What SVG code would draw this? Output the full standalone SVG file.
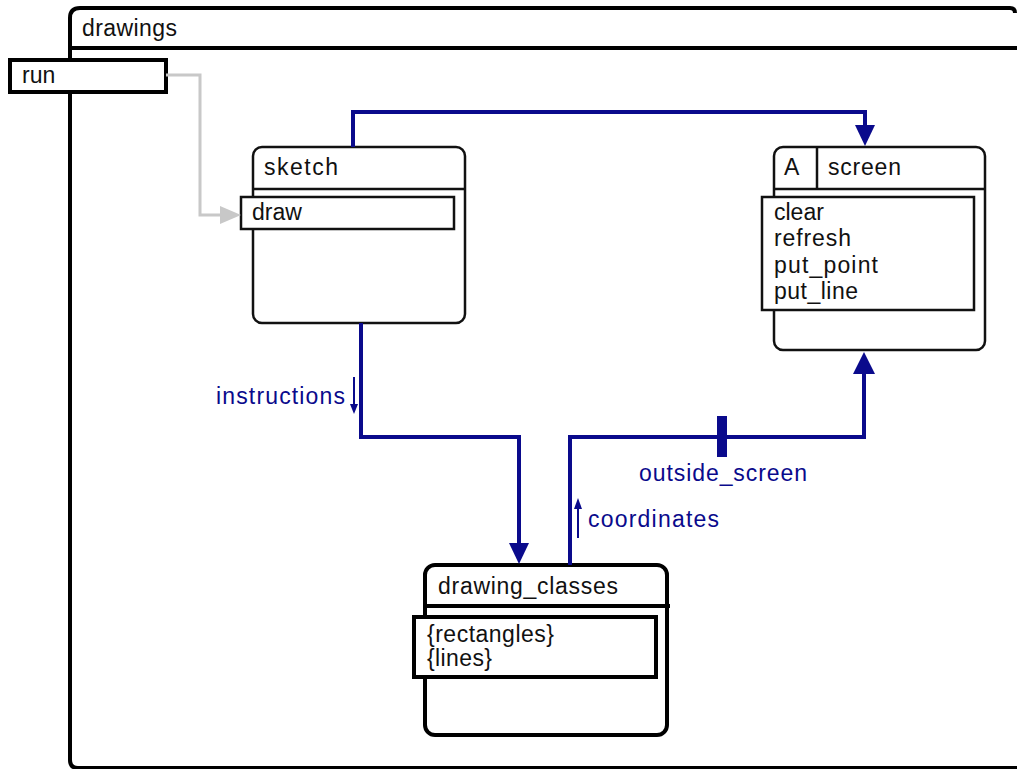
<svg xmlns="http://www.w3.org/2000/svg" width="1017" height="769" viewBox="0 0 1017 769">
<style>
text{font-family:"Liberation Sans",Arial,sans-serif;font-size:23px;fill:#111}
.lbl{fill:#0a0a8c}
.thin{fill:#fff;stroke:#111;stroke-width:2.5}
.thick{fill:#fff;stroke:#000;stroke-width:4}
.conn{fill:none;stroke:#0a0a8c;stroke-width:4}
.head{fill:#0a0a8c}
</style>
<g id="drawings">
<rect x="70" y="8" width="960" height="760" fill="#fff"/>
<path d="M1017,768 L78,768 Q70,768 70,760 L70,18 Q70,8 80,8 L1010,8 Q1015,8 1015,13" fill="none" stroke="#000" stroke-width="4"/>
<line x1="70" y1="48" x2="1017" y2="48" stroke="#000" stroke-width="4"/>
<text x="82" y="36" textLength="95" lengthAdjust="spacing">drawings</text>
</g>
<g id="run">
<rect x="10" y="60" width="156" height="32" class="thick"/>
<text x="22" y="83">run</text>
</g>
<g id="sketch">
<rect x="253" y="147" width="212" height="176" rx="9" class="thin"/>
<line x1="253" y1="189" x2="465" y2="189" stroke="#111" stroke-width="2.5"/>
<text x="264" y="175" textLength="74" lengthAdjust="spacing">sketch</text>
<rect x="241" y="197" width="213" height="32" class="thin"/>
<text x="252" y="220">draw</text>
</g>
<g id="screen">
<rect x="774" y="147" width="211" height="203" rx="9" class="thin"/>
<line x1="774" y1="189" x2="985" y2="189" stroke="#111" stroke-width="2.5"/>
<line x1="817" y1="147" x2="817" y2="189" stroke="#111" stroke-width="2.5"/>
<text x="784" y="175">A</text>
<text x="828" y="175" textLength="73" lengthAdjust="spacing">screen</text>
<rect x="762" y="197" width="212" height="113" class="thin"/>
<text x="774" y="220">clear</text>
<text x="774" y="246" textLength="77" lengthAdjust="spacing">refresh</text>
<text x="774" y="273" textLength="104" lengthAdjust="spacing">put_point</text>
<text x="774" y="299" textLength="84" lengthAdjust="spacing">put_line</text>
</g>
<g id="drawing_classes">
<rect x="425" y="565" width="242" height="170" rx="10" class="thick"/>
<line x1="425" y1="606" x2="670" y2="606" stroke="#000" stroke-width="4"/>
<text x="438" y="594" textLength="180" lengthAdjust="spacing">drawing_classes</text>
<rect x="414" y="617" width="242" height="60" class="thick"/>
<text x="427" y="642" textLength="127" lengthAdjust="spacing">{rectangles}</text>
<text x="427" y="666" textLength="65" lengthAdjust="spacing">{lines}</text>
</g>
<g id="connectors">
<path d="M166,75 L200,75 L200,215 L222,215" fill="none" stroke="#c8c8c8" stroke-width="3"/>
<path d="M220,206 L241,215 L220,224 Z" fill="#c8c8c8"/>
<path d="M353,147 L353,112 L865,112 L865,128" class="conn"/>
<path d="M855,125 L875,125 L865,146 Z" class="head"/>
<path d="M361,323 L361,437 L519,437 L519,545" class="conn"/>
<path d="M509,543 L529,543 L519,564 Z" class="head"/>
<path d="M570,565 L570,437 L864,437 L864,372" class="conn"/>
<path d="M853,374 L875,374 L864,352 Z" class="head"/>
<rect x="717" y="416" width="10" height="41" class="head"/>
<line x1="354" y1="377" x2="354" y2="406" stroke="#0a0a8c" stroke-width="2"/>
<path d="M350,404 L358,404 L354,414 Z" class="head"/>
<line x1="578" y1="508" x2="578" y2="538" stroke="#0a0a8c" stroke-width="2"/>
<path d="M574,509 L582,509 L578,498 Z" class="head"/>
<text x="216" y="404" class="lbl" textLength="129" lengthAdjust="spacing">instructions</text>
<text x="639" y="481" class="lbl" textLength="168" lengthAdjust="spacing">outside_screen</text>
<text x="588" y="527" class="lbl" textLength="131" lengthAdjust="spacing">coordinates</text>
</g>
</svg>
